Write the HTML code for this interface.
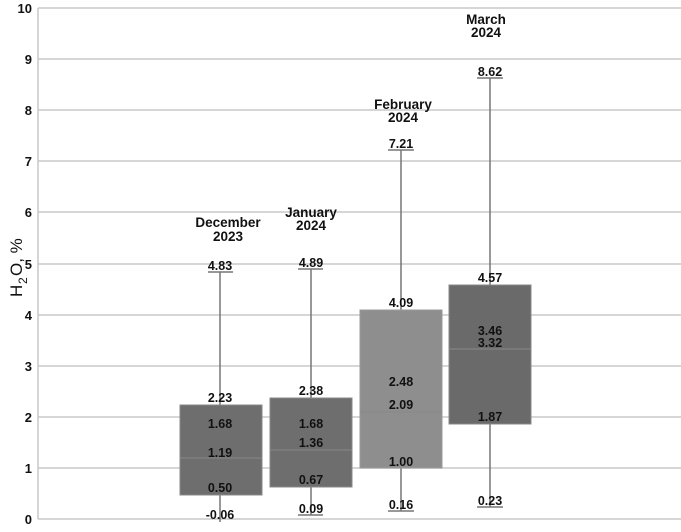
<!DOCTYPE html>
<html><head><style>body{margin:0;background:#fff}</style></head><body>
<svg width="681" height="527" xmlns="http://www.w3.org/2000/svg" font-family="Liberation Sans, Arial, sans-serif" font-weight="bold">
<g stroke="#c8c8c8" stroke-width="1.5">
<line x1="38" x2="681" y1="519" y2="519"/><line x1="38" x2="681" y1="468" y2="468"/><line x1="38" x2="681" y1="417" y2="417"/><line x1="38" x2="681" y1="366" y2="366"/><line x1="38" x2="681" y1="315" y2="315"/><line x1="38" x2="681" y1="264" y2="264"/><line x1="38" x2="681" y1="212" y2="212"/><line x1="38" x2="681" y1="161" y2="161"/><line x1="38" x2="681" y1="110" y2="110"/><line x1="38" x2="681" y1="59" y2="59"/><line x1="38" x2="681" y1="8" y2="8"/>
<line x1="38" x2="38" y1="8" y2="519"/>
</g>
<g font-size="13" text-anchor="end" fill="#111">
<text x="32" y="524">0</text><text x="32" y="473">1</text><text x="32" y="422">2</text><text x="32" y="371">3</text><text x="32" y="320">4</text><text x="32" y="269">5</text><text x="32" y="217">6</text><text x="32" y="166">7</text><text x="32" y="115">8</text><text x="32" y="64">9</text><text x="32" y="13">10</text>
</g>
<g transform="translate(22,297) rotate(-90)" font-size="17" font-weight="normal" fill="#111">
<text x="0" y="0">H</text>
<text x="13" y="5" font-size="12">2</text>
<text x="21" y="0">O, %</text>
</g>
<g stroke="#777" stroke-width="1.5">
<line x1="220" x2="220" y1="272" y2="522"/><line x1="311" x2="311" y1="269" y2="515"/><line x1="401" x2="401" y1="150" y2="511"/><line x1="490" x2="490" y1="78" y2="507"/>
<line x1="208" x2="233" y1="272" y2="272"/><line x1="298" x2="323" y1="269" y2="269"/><line x1="298" x2="323" y1="515" y2="515"/><line x1="388" x2="414" y1="150" y2="150"/><line x1="388" x2="414" y1="511" y2="511"/><line x1="477" x2="503" y1="78" y2="78"/><line x1="477" x2="503" y1="507" y2="507"/>
</g>
<rect x="180" y="405" width="82" height="90" fill="#6e6e6e" stroke="#888"/>
<rect x="270" y="398" width="82" height="89" fill="#6e6e6e" stroke="#888"/>
<rect x="360" y="310" width="82" height="158" fill="#8e8e8e" stroke="#999"/>
<rect x="449" y="285" width="82" height="139" fill="#6a6a6a" stroke="#888"/>
<g stroke="#888" stroke-width="1">
<line x1="180" x2="262" y1="458" y2="458"/><line x1="270" x2="352" y1="450" y2="450"/><line x1="360" x2="442" y1="412" y2="412"/><line x1="449" x2="531" y1="349" y2="349"/>
</g>
<g font-size="12.5" text-anchor="middle" fill="#111">
<text x="220" y="270">4.83</text><text x="220" y="402">2.23</text><text x="220" y="428">1.68</text><text x="220" y="457">1.19</text><text x="220" y="492">0.50</text><text x="220" y="519">-0.06</text>
<text x="311" y="267">4.89</text><text x="311" y="395">2.38</text><text x="311" y="428">1.68</text><text x="311" y="447">1.36</text><text x="311" y="484">0.67</text><text x="311" y="513">0.09</text>
<text x="401" y="148">7.21</text><text x="401" y="307">4.09</text><text x="401" y="386">2.48</text><text x="401" y="409">2.09</text><text x="401" y="466">1.00</text><text x="401" y="509">0.16</text>
<text x="490" y="76">8.62</text><text x="490" y="282">4.57</text><text x="490" y="335">3.46</text><text x="490" y="347">3.32</text><text x="490" y="421">1.87</text><text x="490" y="505">0.23</text>
</g>
<g font-size="13.5" text-anchor="middle" fill="#111">
<text x="228" y="227">December</text><text x="228" y="241">2023</text>
<text x="311" y="217">January</text><text x="311" y="230">2024</text>
<text x="403" y="109">February</text><text x="403" y="122">2024</text>
<text x="486" y="24">March</text><text x="486" y="37">2024</text>
</g>
</svg>
</body></html>
